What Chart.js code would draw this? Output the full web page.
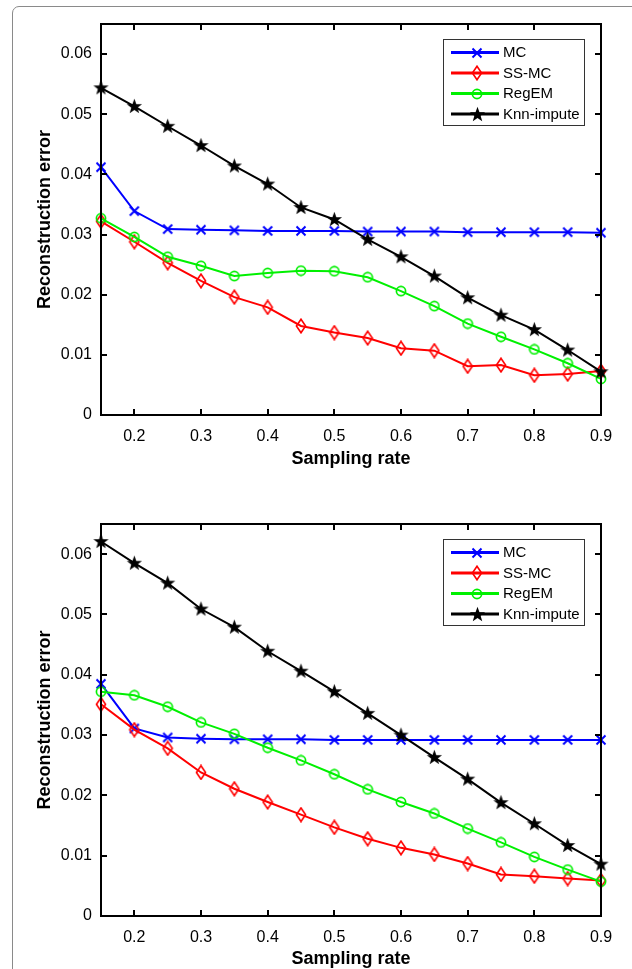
<!DOCTYPE html>
<html><head><meta charset="utf-8">
<script src="https://cdn.jsdelivr.net/npm/chart.js@4/dist/chart.umd.min.js"></script>
<style>
html,body{margin:0;padding:0;background:#fff;overflow:hidden;}
body{width:632px;height:969px;position:relative;}
#frame{position:absolute;left:12px;top:6px;width:700px;height:1100px;border:1px solid #8a8a8a;border-radius:7px;box-sizing:border-box;}
.box{position:absolute;left:0;width:632px;}
#c1wrap{top:0;height:485px;}
#c2wrap{top:500px;height:469px;}
canvas{display:block;}
</style></head>
<body>
<div id="frame"></div>
<div class="box" id="c1wrap"><canvas id="c1" width="632" height="485"></canvas></div>
<div class="box" id="c2wrap"><canvas id="c2" width="632" height="469"></canvas></div>
<script>
// ---------- data ----------
const samplingRate = [0.15,0.2,0.25,0.3,0.35,0.4,0.45,0.5,0.55,0.6,0.65,0.7,0.75,0.8,0.85,0.9];
const xTickValues = [0.2,0.3,0.4,0.5,0.6,0.7,0.8,0.9];
const yTickValues = [0,0.01,0.02,0.03,0.04,0.05,0.06];
const seriesNames = ['MC','SS-MC','RegEM','Knn-impute'];
const xAxisTitle = 'Sampling rate';
const yAxisTitle = 'Reconstruction error';

const mcTop    = [0.0412,0.0339,0.0309,0.0308,0.0307,0.0306,0.0306,0.0306,0.0305,0.0305,0.0305,0.0304,0.0304,0.0304,0.0304,0.0303];
const ssmcTop  = [0.0322,0.0288,0.0253,0.0223,0.0196,0.0179,0.0148,0.0137,0.0128,0.0111,0.0107,0.0081,0.0083,0.0066,0.0068,0.0073];
const regemTop = [0.0327,0.0296,0.0263,0.0248,0.0231,0.0236,0.0240,0.0239,0.0229,0.0206,0.0181,0.0152,0.0130,0.0109,0.0086,0.0060];
const knnTop   = [0.0544,0.0513,0.0480,0.0448,0.0414,0.0384,0.0345,0.0325,0.0292,0.0263,0.0231,0.0195,0.0166,0.0142,0.0108,0.0072];

const mcBottom    = [0.0385,0.0311,0.0296,0.0294,0.0293,0.0293,0.0293,0.0292,0.0292,0.0292,0.0292,0.0292,0.0292,0.0292,0.0292,0.0292];
const ssmcBottom  = [0.0351,0.0309,0.0278,0.0238,0.0211,0.0189,0.0168,0.0147,0.0128,0.0113,0.0102,0.0087,0.0069,0.0066,0.0062,0.0059];
const regemBottom = [0.0372,0.0366,0.0347,0.0321,0.0302,0.0279,0.0258,0.0235,0.0210,0.0189,0.0170,0.0145,0.0122,0.0098,0.0077,0.0057];
const knnBottom   = [0.0621,0.0585,0.0552,0.0509,0.0479,0.0439,0.0406,0.0372,0.0336,0.0300,0.0263,0.0227,0.0188,0.0153,0.0117,0.0086];

// ---------- styling ----------
const FONT = "'Liberation Sans', Arial, Helvetica, sans-serif";
const colors = ['#0000ff','#ff0000','#00f000','#000000'];

function makeMarker(kind, color){
  const c = document.createElement('canvas');
  let w = 12, h = 12;
  if (kind === 'diamond'){ w = 12; h = 16; }
  if (kind === 'star'){ w = 17; h = 17; }
  c.width = w; c.height = h;
  const g = c.getContext('2d');
  g.strokeStyle = color; g.fillStyle = color;
  if (kind === 'x'){
    g.lineWidth = 2;
    g.beginPath();
    g.moveTo(1.5,1.5); g.lineTo(10.5,10.5);
    g.moveTo(10.5,1.5); g.lineTo(1.5,10.5);
    g.stroke();
  } else if (kind === 'diamond'){
    g.lineWidth = 1.6;
    g.beginPath();
    g.moveTo(6,1.2); g.lineTo(10.6,8); g.lineTo(6,14.8); g.lineTo(1.4,8); g.closePath();
    g.stroke();
  } else if (kind === 'circle'){
    g.lineWidth = 1.7;
    g.beginPath(); g.arc(6,6,4.6,0,Math.PI*2); g.stroke();
  } else if (kind === 'star'){
    g.beginPath();
    const cx = 8.5, cy = 8.8, ro = 8, ri = 3.3;
    for (let k=0;k<10;k++){
      const r = k%2===0 ? ro : ri;
      const a = -Math.PI/2 + k*Math.PI/5;
      const px = cx + r*Math.cos(a), py = cy + r*Math.sin(a);
      if (k===0) g.moveTo(px,py); else g.lineTo(px,py);
    }
    g.closePath(); g.fill();
  }
  return c;
}
const markers = [
  makeMarker('x', colors[0]),
  makeMarker('diamond', colors[1]),
  makeMarker('circle', colors[2]),
  makeMarker('star', colors[3])
];

const framePlugin = {
  id: 'matlabFrame',
  afterDraw(chart){
    const ctx = chart.ctx, ca = chart.chartArea;
    const xs = chart.scales.x, ys = chart.scales.y;
    ctx.save();
    ctx.strokeStyle = '#000'; ctx.lineWidth = 2;
    ctx.strokeRect(ca.left, ca.top, ca.right-ca.left, ca.bottom-ca.top);
    const tl = 6;
    ctx.beginPath();
    xTickValues.forEach(v => {
      const px = Math.round(xs.getPixelForValue(v));
      ctx.moveTo(px, ca.bottom); ctx.lineTo(px, ca.bottom - tl);
      ctx.moveTo(px, ca.top); ctx.lineTo(px, ca.top + tl);
    });
    yTickValues.forEach(v => {
      const py = Math.round(ys.getPixelForValue(v));
      ctx.moveTo(ca.left, py); ctx.lineTo(ca.left + tl, py);
      ctx.moveTo(ca.right, py); ctx.lineTo(ca.right - tl, py);
    });
    ctx.stroke();

    // legend
    const bx = ca.right - 158, by = ca.top + 15, bw = 141, bh = 86;
    ctx.fillStyle = '#fff';
    ctx.fillRect(bx, by, bw, bh);
    ctx.strokeStyle = '#333'; ctx.lineWidth = 1;
    ctx.strokeRect(bx + 0.5, by + 0.5, bw, bh);
    ctx.font = "15px " + FONT;
    ctx.textBaseline = 'middle'; ctx.textAlign = 'left';
    chart.data.datasets.forEach((ds, i) => {
      const y = by + 13.5 + i*20.5;
      ctx.strokeStyle = ds.borderColor; ctx.lineWidth = 3;
      ctx.beginPath(); ctx.moveTo(bx + 8, y); ctx.lineTo(bx + 56, y); ctx.stroke();
      const m = ds.pointStyle;
      ctx.drawImage(m, Math.round(bx + 34 - m.width/2), Math.round(y - m.height/2));
      ctx.fillStyle = '#000';
      ctx.fillText(ds.label, bx + 60, y + 0.5);
    });
    ctx.restore();
  }
};

function makeChart(id, seriesList, xAxisHeight, titleBottomPad){
  const datasets = seriesList.map((vals, i) => ({
    label: seriesNames[i],
    data: samplingRate.map((x, k) => ({x: x, y: vals[k]})),
    borderColor: colors[i],
    backgroundColor: colors[i],
    borderWidth: 2,
    pointStyle: markers[i],
    pointRadius: 6,
    tension: 0,
    clip: false,
    order: 4 - i
  }));
  return new Chart(document.getElementById(id), {
    type: 'line',
    data: { datasets },
    options: {
      responsive: false,
      animation: false,
      devicePixelRatio: 1,
      layout: { padding: { top: 24, right: 31, left: 0, bottom: 0 } },
      plugins: { legend: { display: false }, tooltip: { enabled: false } },
      scales: {
        x: {
          type: 'linear', min: 0.15, max: 0.9,
          afterBuildTicks: s => { s.ticks = xTickValues.map(v => ({ value: v })); },
          afterFit: s => { s.height = xAxisHeight; },
          grid: { display: false, drawTicks: false },
          border: { display: false },
          ticks: { color: '#000', font: { family: FONT, size: 16 }, padding: 12, maxRotation: 0, autoSkip: false,
                   callback: v => v.toFixed(1) },
          title: { display: true, text: xAxisTitle, color: '#000',
                   font: { family: FONT, size: 18, weight: 'bold', lineHeight: 1 }, padding: { top: 0, bottom: titleBottomPad } }
        },
        y: {
          min: 0, max: 0.065,
          afterBuildTicks: s => { s.ticks = yTickValues.map(v => ({ value: v })); },
          afterFit: s => { s.width = 101; },
          grid: { display: false, drawTicks: false },
          border: { display: false },
          ticks: { color: '#000', font: { family: FONT, size: 16 }, padding: 9,
                   callback: v => (v === 0 ? '0' : v.toFixed(2)) },
          title: { display: true, text: yAxisTitle, color: '#000',
                   font: { family: FONT, size: 18, weight: 'bold', lineHeight: 1 }, padding: { top: 36, bottom: 0 } }
        }
      }
    },
    plugins: [framePlugin]
  });
}

makeChart('c1', [mcTop, ssmcTop, regemTop, knnTop], 70, 17);
makeChart('c2', [mcBottom, ssmcBottom, regemBottom, knnBottom], 53, 1);
</script>
</body></html>
